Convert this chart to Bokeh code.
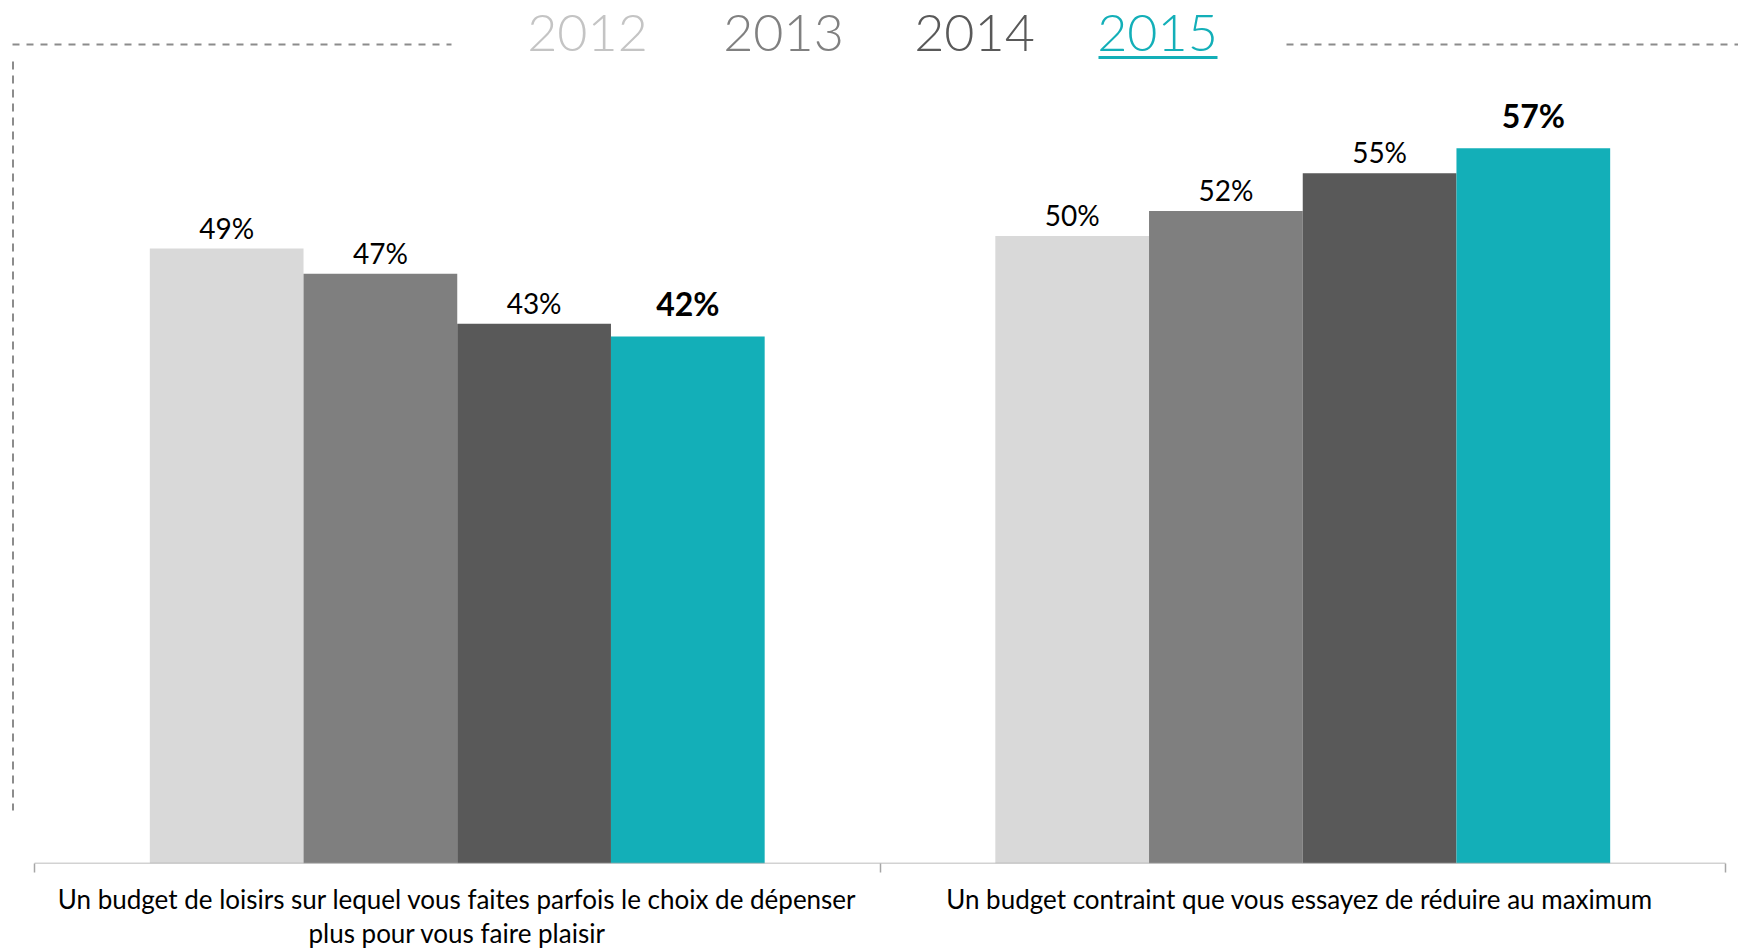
from bokeh.plotting import figure
from bokeh.models import (ColumnDataSource, Range1d, FixedTicker, LabelSet, Label)
from bokeh.transform import dodge
from bokeh.core.properties import value
from bokeh.embed import file_html
from bokeh.resources import INLINE

# ---------------- data ----------------
categories = [
    "Un budget de loisirs sur lequel vous faites parfois le choix de dépenser\nplus pour vous faire plaisir",
    "Un budget contraint que vous essayez de  réduire au maximum",
]
years = ["2012", "2013", "2014", "2015"]
values_2012 = [49, 50]
values_2013 = [47, 52]
values_2014 = [43, 55]
values_2015 = [42, 57]
series = [values_2012, values_2013, values_2014, values_2015]

bar_colors = ["#d9d9d9", "#7f7f7f", "#595959", "#13afb8"]
year_colors = ["#c4c4c4", "#808080", "#595959", "#13afb8"]

# ---------------- layout (page pixels == figure pixels) ----------------
FRAME_W, FRAME_H = 1738, 863
PX_PER_X = 845.5            # pixels per category
PX_PER_Y = 12.55            # pixels per percentage point
X0_PAGE = 34                # page x where the category axis starts
x_start = -X0_PAGE / PX_PER_X
x_end = x_start + FRAME_W / PX_PER_X
y_end = FRAME_H / PX_PER_Y


def px_x(page_x):
    return x_start + page_x / PX_PER_X


def px_y(page_y):
    return (FRAME_H - page_y) / PX_PER_Y


p = figure(frame_width=FRAME_W, frame_height=FRAME_H,
           output_backend="svg", toolbar_location=None,
           x_range=Range1d(x_start, x_end), y_range=Range1d(0, y_end),
           min_border_left=0, min_border_right=0, min_border_top=0,
           min_border_bottom=0, y_axis_location=None)
p.outline_line_color = None
p.grid.visible = False
p.background_fill_color = "white"
p.border_fill_color = "white"

cat_centers = [i + 0.5 for i in range(len(categories))]
bar_w = 0.1818

FONT = value("Lato")

for j, (yr, vals) in enumerate(zip(years, series)):
    off = (j - 1.5) * bar_w
    labels = [f"{v}%" for v in vals]
    src = ColumnDataSource(dict(cx=cat_centers, top=vals, label=labels))
    p.vbar(x=dodge("cx", off, range=p.x_range), top="top", width=bar_w,
           bottom=0, source=src, fill_color=bar_colors[j], line_color=None)
    bold = (j == len(years) - 1)
    ls = LabelSet(x=dodge("cx", off, range=p.x_range), y="top", text="label",
                  source=src, text_align="center", text_baseline="middle",
                  y_offset=33 if bold else 21,
                  text_font=FONT,
                  text_font_size="32px" if bold else "28px",
                  text_font_style="bold" if bold else "normal",
                  text_color="#000000")
    p.add_layout(ls)

# baseline of the category axis
p.segment(x0=[0], y0=[0], x1=[len(categories)], y1=[0],
          line_color="#a6a6a6", line_width=1.5)

ax = p.xaxis[0]
ax.ticker = FixedTicker(ticks=cat_centers,
                        minor_ticks=list(range(len(categories) + 1)))
ax.major_label_overrides = {c: lab for c, lab in zip(cat_centers, categories)}
ax.axis_line_color = None
ax.major_tick_out = 0
ax.major_tick_in = 0
ax.minor_tick_out = 9
ax.minor_tick_in = 0
ax.minor_tick_line_color = "#a6a6a6"
ax.minor_tick_line_width = 1.5
ax.major_label_standoff = 10
ax.major_label_text_font = "Lato"
ax.major_label_text_font_size = "26px"
ax.major_label_text_color = "#000000"
ax.major_label_text_line_height = 1.09

# ---------------- header (year legend) ----------------
header_centers_page = [587, 783, 974, 1157]
for yr, col, cxp in zip(years, year_colors, header_centers_page):
    p.add_layout(Label(x=px_x(cxp), y=px_y(32), text=yr, text_align="center",
                       text_baseline="middle", text_font="Lato Light, Lato",
                       text_font_size="52px", text_color=col))
# underline of the highlighted year
p.segment(x0=[px_x(1098)], y0=[px_y(57)], x1=[px_x(1217)], y1=[px_y(57)],
          line_color=year_colors[-1], line_width=3)

# dashed frame lines
dash_col = "#8c8c8c"
p.segment(x0=[px_x(12), px_x(1286)], y0=[px_y(44), px_y(44)],
          x1=[px_x(451), px_x(1738)], y1=[px_y(44), px_y(44)],
          line_color=dash_col, line_width=2, line_dash="7 7")
p.segment(x0=[px_x(12.5)], y0=[px_y(61)], x1=[px_x(12.5)], y1=[px_y(810)],
          line_color=dash_col, line_width=2, line_dash="8 6")

open("out.html", "w").write(file_html(p, INLINE))
